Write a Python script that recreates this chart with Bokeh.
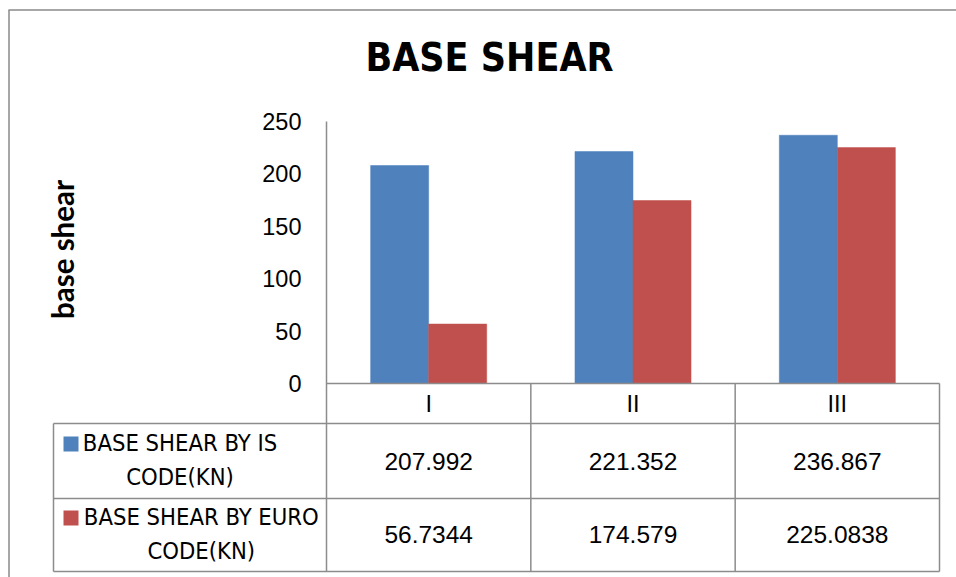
import math
from bokeh.plotting import figure
from bokeh.models import Range1d
from bokeh.core.properties import value
from bokeh.embed import file_html
from bokeh.resources import INLINE

# ---- data ----
categories = ["I", "II", "III"]
is_code = [207.992, 221.352, 236.867]
euro_code = [56.7344, 174.579, 225.0838]
series_names = [["BASE SHEAR BY IS", "CODE(KN)"], ["BASE SHEAR BY EURO", "CODE(KN)"]]
y_ticks = [0, 50, 100, 150, 200, 250]
title_text = "BASE SHEAR"
y_label = "base shear"

# ---- layout (canvas pixels) ----
W, H = 956, 577
PL, PR = 326, 939      # plot area left/right
PT, P0 = 121, 383      # y=250 and y=0 pixel rows
YMAX = 250
n = len(categories)
sx = (PR - PL) / n
sy = (P0 - PT) / YMAX
x_start = -PL / sx
x_end = n + (W - PR) / sx
y_end = YMAX + PT / sy
y_start = -(H - P0) / sy

def dx(c):
    return x_start + c / sx

def dy(c):
    return y_end - c / sy

BLUE = "#4F81BD"
RED = "#C0504D"
GRID = "#8c8c8c"
NARROW = ("'Liberation Sans Narrow', 'Arial Narrow', 'DejaVu Sans Condensed', "
          "'Noto Sans Condensed', 'Roboto Condensed', sans-serif")
SANS = "'Liberation Sans', Arial, sans-serif"

p = figure(width=W, height=H, output_backend="svg", toolbar_location=None,
           x_range=Range1d(x_start, x_end), y_range=Range1d(y_start, y_end),
           x_axis_location=None, y_axis_location=None, min_border=0,
           outline_line_color=None)
p.xgrid.visible = False
p.ygrid.visible = False

# ---- bars ----
bw = 0.284
xs = [i + 0.5 for i in range(n)]
p.vbar(x=[v - bw / 2 for v in xs], top=is_code, width=bw, bottom=0,
       fill_color=BLUE, line_color=BLUE, line_width=0.5)
p.vbar(x=[v + bw / 2 for v in xs], top=euro_code, width=bw, bottom=0,
       fill_color=RED, line_color=RED, line_width=0.5)

# ---- outer chart border (left/top) ----
p.segment(x0=[dx(8.5), dx(8)], y0=[dy(9.5), dy(9.5)],
          x1=[dx(8.5), dx(W)], y1=[dy(H), dy(9.5)],
          line_color="#8a8a8a", line_width=1.5)

# ---- axis line + data table lines ----
TB = 571
rows_y = [dy(423), dy(498), dy(TB)]
x0s, y0s, x1s, y1s = [], [], [], []
x0s.append(0); y0s.append(YMAX); x1s.append(0); y1s.append(dy(TB))
x0s.append(0); y0s.append(0); x1s.append(n); y1s.append(0)
for k in range(1, n + 1):
    x0s.append(k); y0s.append(0); x1s.append(k); y1s.append(dy(TB))
x0s.append(dx(53)); y0s.append(rows_y[0]); x1s.append(dx(53)); y1s.append(dy(TB))
for ry in rows_y:
    x0s.append(dx(53)); y0s.append(ry); x1s.append(n); y1s.append(ry)
p.segment(x0=x0s, y0=y0s, x1=x1s, y1=y1s, line_color=GRID, line_width=1.5)

# ---- title ----
p.text(x=[dx(489)], y=[dy(57)], text=[title_text], text_font=value(NARROW),
       text_font_style="bold", text_font_size="39px", text_align="center",
       text_baseline="middle", text_color="#000000")

# ---- y axis label ----
p.text(x=[dx(62)], y=[dy(249)], text=[y_label], text_font=value("Lato"),
       text_font_style="bold", text_font_size="29.5px", text_align="center",
       text_baseline="middle", angle=math.pi / 2, text_color="#000000")

# ---- y tick labels ----
p.text(x=[dx(301)] * len(y_ticks), y=y_ticks, text=[str(t) for t in y_ticks],
       text_font=value(SANS), text_font_size="23.5px", text_align="right",
       text_baseline="middle", text_color="#000000")

# ---- category labels (table header) ----
p.text(x=xs, y=[dy(403)] * n, text=categories, text_font=value(SANS),
       text_font_size="23.5px", text_align="center", text_baseline="middle",
       text_color="#000000")

# ---- table values ----
p.text(x=xs, y=[dy(460.5)] * n, text=[str(v) for v in is_code],
       text_font=value(SANS), text_font_size="24.5px", text_align="center",
       text_baseline="middle", text_color="#000000")
p.text(x=xs, y=[dy(533.5)] * n, text=[str(v) for v in euro_code],
       text_font=value(SANS), text_font_size="24.5px", text_align="center",
       text_baseline="middle", text_color="#000000")

# ---- legend keys and names ----
p.scatter(x=[dx(70.5), dx(70.5)], y=[dy(443.5), dy(517.5)], marker="square",
          size=15, fill_color=[BLUE, RED], line_color=None)
name_cx = [179.5, 200.8]
name_cy = [(442, 476), (516, 550)]
for names, cx, cys in zip(series_names, name_cx, name_cy):
    p.text(x=[dx(cx)] * 2, y=[dy(cys[0]), dy(cys[1])], text=names,
           text_font=value(NARROW), text_font_size="23.6px", text_align="center",
           text_baseline="middle", text_color="#000000")

open("out.html", "w").write(file_html(p, INLINE))
